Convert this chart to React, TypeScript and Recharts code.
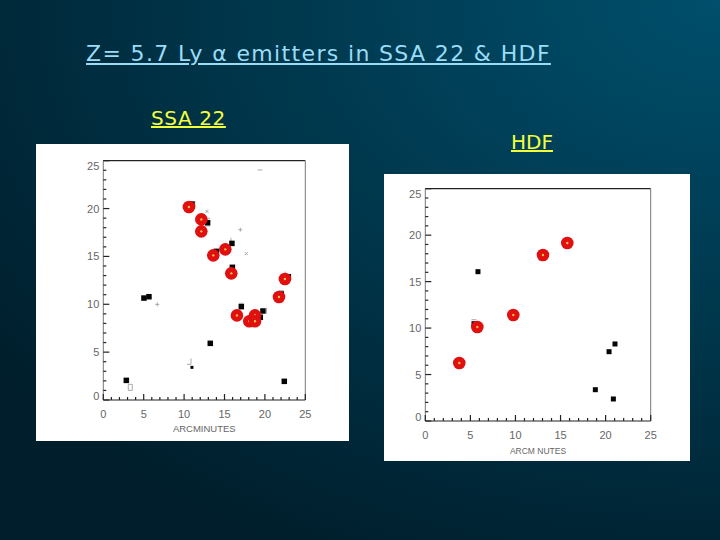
import * as React from "react";
import { ScatterChart, Scatter, XAxis, YAxis } from "recharts";

const AXIS_TICKS = [0, 1, 2, 3, 4, 5, 6, 7, 8, 9, 10, 11, 12, 13, 14, 15, 16, 17, 18, 19, 20, 21, 22, 23, 24, 25];
const AXIS_DOMAIN: [number, number] = [0, 25];

const ssaX = [10.97, 12.91, 13.99, 15.92, 15.97, 22.9, 22.03, 17.08, 19.76, 19.43, 5.03, 5.65, 13.24, 10.97, 2.85, 22.4];
const ssaY = [20.47, 18.52, 15.53, 16.36, 13.86, 12.88, 11.07, 9.75, 9.3, 8.64, 10.65, 10.79, 5.92, 3.41, 2.05, 1.95];
const ssaSize = [5.5, 5.5, 5.5, 5.5, 5.5, 5.5, 5.5, 5.5, 5.5, 5.5, 5.5, 5.5, 5.5, 3, 5.5, 5.5];

const ssaRedX = [10.6, 12.13, 12.13, 13.61, 15.1, 15.84, 22.48, 21.74, 16.54, 18.07, 18.77, 18.77];
const ssaRedY = [20.16, 18.87, 17.62, 15.11, 15.74, 13.23, 12.64, 10.76, 8.84, 8.22, 8.84, 8.22];

const ssaFaintX = [16.96, 17.7, 6.68, 12.83, 19.4, 10.73, 3.34, 11.34, 12.91, 12.91, 16.25, 15.8, 17.08, 20.2, 22.03, 22.5];
const ssaFaintY = [17.79, 15.29, 9.99, 19.7, 24.03, 3.93, 1.32, 20.47, 18.98, 18.18, 13.86, 16.64, 10.1, 9.33, 11.42, 13.1];
const ssaFaintKind = ["plus", "cross", "plus", "cross", "dash", "corner", "box", "bar", "dash", "dash", "bar", "bar", "dash", "bar", "dash", "bar"];

const hdfX = [5.84, 5.4, 21.04, 20.38, 18.86, 20.86];
const hdfY = [16.07, 10.47, 8.29, 7.46, 3.37, 2.37];
const hdfSize = [5, 5, 5, 5, 5, 5];

const hdfRedX = [3.77, 5.77, 9.76, 13.05, 15.75];
const hdfRedY = [6.24, 10.11, 11.41, 17.86, 19.15];

const hdfFaintX = [3.77, 5.4, 15.75, 12.87];
const hdfFaintY = [6.78, 10.9, 19.76, 17.29];
const hdfFaintKind = ["dash", "dash", "dash", "dash"];

const zip = (xs: number[], ys: number[]) => xs.map((x, i) => ({ x, y: ys[i] }));

const FONT = "'Liberation Sans', Arial, sans-serif";
const LABEL = "#666666";
const TICK = "#222222";
const TICK_W = 1.2;

function tickLen(v: number) {
  return v % 5 === 0 ? 6 : 3;
}

function BottomTick({ x, y, payload }: any) {
  const v = payload.value;
  return (
    <g>
      <line x1={x} x2={x} y1={y} y2={y - tickLen(v)} stroke={TICK} strokeWidth={TICK_W} />
      {v % 5 === 0 && (
        <text x={x} y={y + 18} textAnchor="middle" fontSize={11} fontFamily={FONT} fill={LABEL}>
          {v}
        </text>
      )}
    </g>
  );
}

function LeftTick({ x, y, payload }: any) {
  const v = payload.value;
  // end labels sit a little inside the axis ends in the original
  const nudge = v === 0 ? -4 : v === 25 ? 5 : 0;
  return (
    <g>
      <line x1={x} x2={x + tickLen(v)} y1={y} y2={y} stroke={TICK} strokeWidth={TICK_W} />
      {v % 5 === 0 && (
        <text x={x - 4} y={y + 4 + nudge} textAnchor="end" fontSize={11} fontFamily={FONT} fill={LABEL}>
          {v}
        </text>
      )}
    </g>
  );
}

function TopTick({ x, y, payload }: any) {
  return <line x1={x} x2={x} y1={y} y2={y + tickLen(payload.value)} stroke={TICK} strokeWidth={TICK_W} />;
}

function RightTick({ x, y, payload }: any) {
  return <line x1={x} x2={x - tickLen(payload.value)} y1={y} y2={y} stroke={TICK} strokeWidth={TICK_W} />;
}

function RedDot({ cx, cy }: any) {
  return (
    <g>
      <circle cx={cx} cy={cy} r={6.3} fill="#e01010" />
      <circle cx={cx} cy={cy} r={1.2} fill="#ffc040" />
    </g>
  );
}

function BlackSquare({ cx, cy, payload }: any) {
  const s = payload.size ?? 5;
  return <rect x={cx - s / 2} y={cy - s / 2} width={s} height={s} fill="#050505" />;
}

function FaintMark({ cx, cy, payload }: any) {
  const k = payload.kind;
  let d = "";
  if (k === "plus") d = `M${cx - 2} ${cy}H${cx + 2}M${cx} ${cy - 2}V${cy + 2}`;
  if (k === "cross") d = `M${cx - 1.5} ${cy - 1.5}L${cx + 1.5} ${cy + 1.5}M${cx - 1.5} ${cy + 1.5}L${cx + 1.5} ${cy - 1.5}`;
  if (k === "dash") d = `M${cx - 2.5} ${cy}H${cx + 2.5}`;
  if (k === "bar") d = `M${cx} ${cy - 3}V${cy + 3}`;
  if (k === "corner") d = `M${cx - 3} ${cy + 2}H${cx + 1}V${cy - 4}`;
  if (k === "box") d = `M${cx - 2} ${cy - 3}H${cx + 2}V${cy + 3}H${cx - 2}Z`;
  return <path d={d} fill="none" stroke="#a0a0a0" strokeWidth={0.9} />;
}

function Panel({ left, top, width, height, plot, xTitle, titleOffset, titleSize, black, red, faint }: any) {
  return (
    <div style={{ position: "absolute", left, top, width, height, background: "#fff" }}>
      <ScatterChart width={width} height={height} margin={plot}>
        <XAxis
          type="number"
          dataKey="x"
          domain={AXIS_DOMAIN}
          ticks={AXIS_TICKS}
          interval={0}
          height={1}
          tickSize={0}
          tickMargin={0}
          tick={BottomTick}
          axisLine={{ stroke: "#222", strokeWidth: 1.2 }}
          label={{
            value: xTitle,
            position: "bottom",
            offset: titleOffset,
            fontSize: titleSize,
            fontFamily: FONT,
            fill: LABEL,
          }}
        />
        <XAxis
          xAxisId="top"
          orientation="top"
          type="number"
          domain={AXIS_DOMAIN}
          ticks={AXIS_TICKS}
          interval={0}
          height={1}
          tickSize={0}
          tickMargin={0}
          tick={TopTick}
          axisLine={{ stroke: "#222", strokeWidth: 1.2 }}
        />
        <YAxis
          type="number"
          dataKey="y"
          domain={AXIS_DOMAIN}
          ticks={AXIS_TICKS}
          interval={0}
          width={1}
          tickSize={0}
          tickMargin={0}
          tick={LeftTick}
          stroke="#777"
        />
        <YAxis
          yAxisId="right"
          orientation="right"
          type="number"
          domain={AXIS_DOMAIN}
          ticks={AXIS_TICKS}
          interval={0}
          width={1}
          tickSize={0}
          tickMargin={0}
          tick={RightTick}
          stroke="#777"
        />
        <Scatter data={faint} shape={FaintMark} isAnimationActive={false} />
        <Scatter data={black} shape={BlackSquare} isAnimationActive={false} />
        <Scatter data={red} shape={RedDot} isAnimationActive={false} />
      </ScatterChart>
    </div>
  );
}

export default function App() {
  const ssaBlack = zip(ssaX, ssaY).map((d, i) => ({ ...d, size: ssaSize[i] }));
  const hdfBlack = zip(hdfX, hdfY).map((d, i) => ({ ...d, size: hdfSize[i] }));
  const ssaFaint = zip(ssaFaintX, ssaFaintY).map((d, i) => ({ ...d, kind: ssaFaintKind[i] }));
  const hdfFaint = zip(hdfFaintX, hdfFaintY).map((d, i) => ({ ...d, kind: hdfFaintKind[i] }));

  const heading: React.CSSProperties = {
    position: "absolute",
    fontFamily: "'DejaVu Sans', sans-serif",
    textDecoration: "underline",
    whiteSpace: "nowrap",
    lineHeight: 1,
  };

  return (
    <div
      style={{
        position: "absolute",
        left: 0,
        top: 0,
        width: 720,
        height: 540,
        overflow: "hidden",
        background: "radial-gradient(ellipse 900px 620px at 100% 0%, #004f6c 0%, #003a50 45%, #001e2c 100%)",
      }}
    >
      <div style={{ ...heading, left: 86, top: 43, fontSize: 22, letterSpacing: 1.35, color: "#9adcf6" }}>
        Z= 5.7 Ly α emitters in SSA 22 &amp; HDF
      </div>
      <div style={{ ...heading, left: 151, top: 108, fontSize: 20, letterSpacing: 0.6, color: "#f4ff3c" }}>SSA 22</div>
      <div style={{ ...heading, left: 511, top: 132, fontSize: 20, color: "#f4ff3c" }}>HDF</div>

      <Panel
        left={36}
        top={144}
        width={313}
        height={297}
        plot={{ top: 15.7, right: 42.7, bottom: 40, left: 66.3 }}
        xTitle="ARCMINUTES"
        titleOffset={24}
        titleSize={9.5}
        black={ssaBlack}
        red={zip(ssaRedX, ssaRedY)}
        faint={ssaFaint}
      />
      <Panel
        left={384}
        top={174}
        width={306}
        height={287}
        plot={{ top: 13.7, right: 38.3, bottom: 39, left: 40.3 }}
        xTitle="ARCM NUTES"
        titleOffset={26}
        titleSize={8.5}
        black={hdfBlack}
        red={zip(hdfRedX, hdfRedY)}
        faint={hdfFaint}
      />
    </div>
  );
}
